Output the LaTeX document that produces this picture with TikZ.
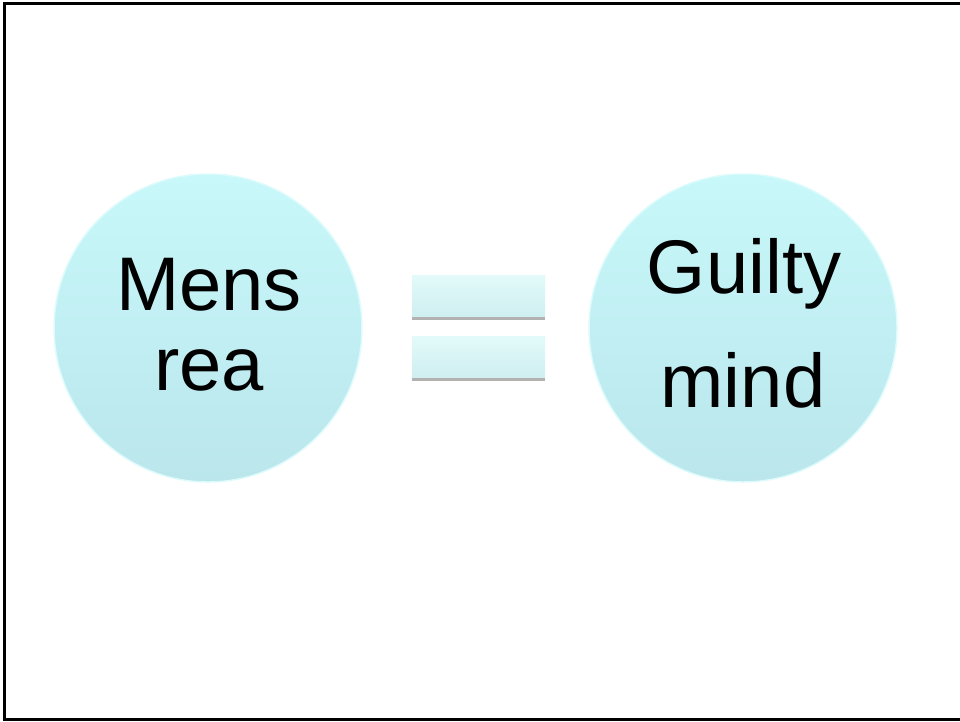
\documentclass[tikz,border=0pt]{standalone}
\usepackage{fontspec}
\setmainfont{Liberation Sans}
\definecolor{bubbletop}{RGB}{200,248,250}
\definecolor{bubblebot}{RGB}{186,230,236}
\definecolor{bartop}{RGB}{226,250,250}
\definecolor{barbot}{RGB}{206,238,240}

\begin{document}
\begin{tikzpicture}[
    x=1pt, y=-1pt,
    bubble/.style={circle, minimum size=308pt, inner sep=0pt,
        top color=bubbletop, bottom color=bubblebot,
        draw=bubbletop!60!white, line width=1.5pt},
    word/.style={font=\fontsize{76}{80}\selectfont, anchor=base, inner sep=0pt},
    bar/.style={minimum width=133pt, minimum height=43pt, inner sep=0pt,
        top color=bartop, bottom color=barbot}
]

    \useasboundingbox (0,0) rectangle (960,721);
    \clip (0,0) rectangle (960,721);

    % frame
    \draw[line width=3pt] (965,3) -- (4,3) -- (4,719) -- (965,719);

    \node[bubble] (mens) at (208,328) {};
    \node[bubble] (guilty) at (743,328) {};

    \node[word] (mensA) at (209,310) {Mens};
    \node[word] (mensB) at (209,390) {rea};
    \node[word] (guiltyA) at (744,293) {Guilty};
    \node[word] (guiltyB) at (743,407) {mind};

    % equals sign
    \node[bar] (eqtop) at (478.5,297) {};
    \node[bar] (eqbot) at (478.5,358) {};
    \draw[gray!60, line width=3pt] (eqtop.south west) -- (eqtop.south east);
    \draw[gray!60, line width=3pt] (eqbot.south west) -- (eqbot.south east);

\end{tikzpicture}
\end{document}
